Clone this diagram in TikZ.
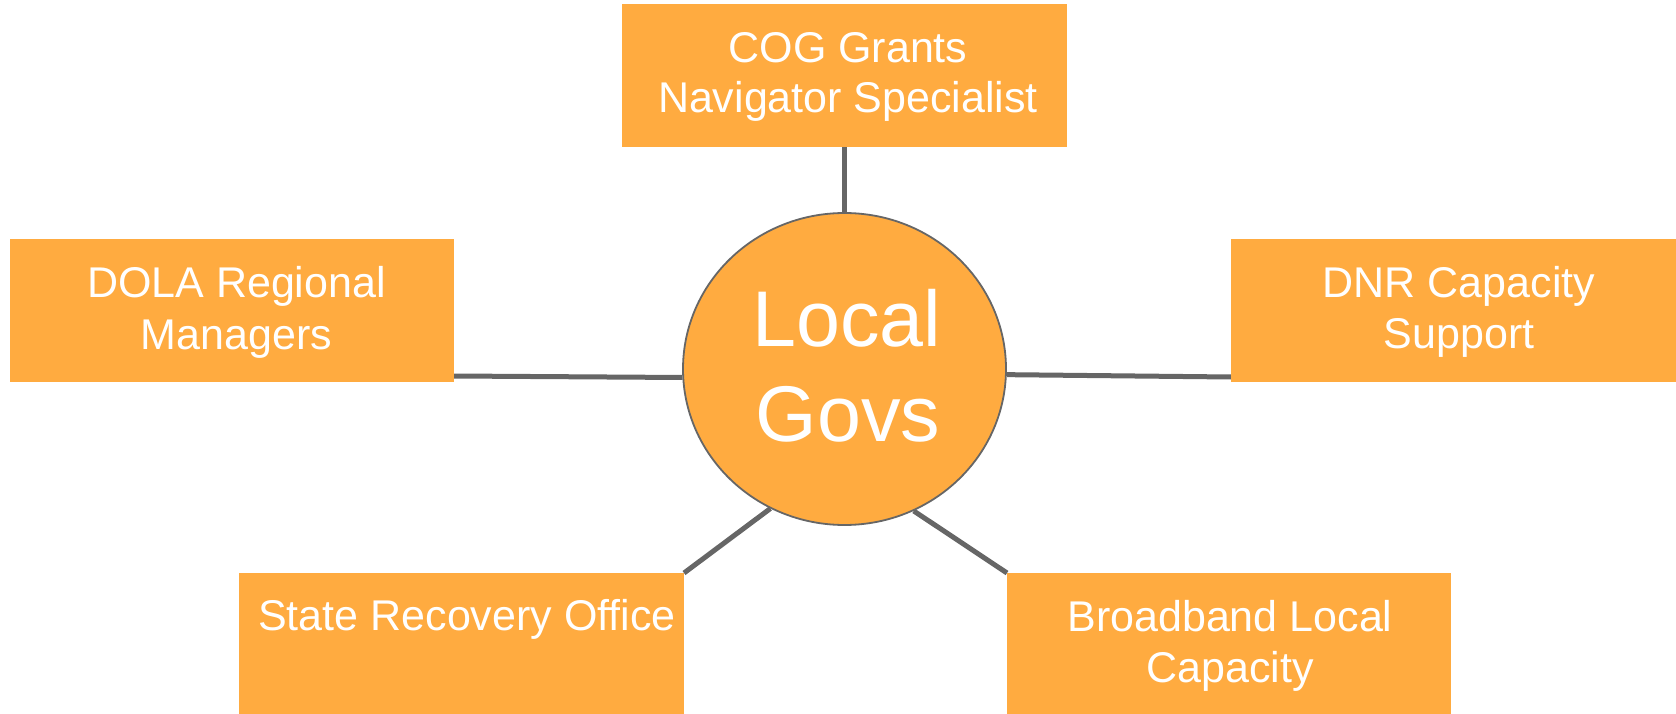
\documentclass[tikz,border=0pt]{standalone}
\usepackage{fontspec}
\setmainfont{Liberation Sans}
\usetikzlibrary{shapes.geometric,backgrounds}
\definecolor{boxorange}{HTML}{FFAB40}
\definecolor{linegray}{HTML}{666666}
\begin{document}
\begin{tikzpicture}[x=1pt,y=-1pt,
  box/.style={fill=boxorange, draw=none, inner sep=0pt, outer sep=0pt, anchor=north west},
  lbl/.style={text=white, anchor=base, inner sep=0pt, font=\fontsize{43}{50}\selectfont},
  big/.style={text=white, anchor=base, inner sep=0pt, font=\fontsize{79}{95}\selectfont},
  link/.style={draw=linegray, line width=5pt}]
\useasboundingbox (0,0) rectangle (1676,714);
\clip (0,0) rectangle (1676,714);
% boxes
\node[box, minimum width=445pt, minimum height=143pt] (cog) at (622,4) {};
\node[box, minimum width=444pt, minimum height=143pt] (dola) at (10,239) {};
\node[box, minimum width=450pt, minimum height=143pt] (dnr) at (1231,239) {};
\node[box, minimum width=445pt, minimum height=150pt] (sro) at (239,573) {};
\node[box, minimum width=444pt, minimum height=150pt] (bb) at (1007,573) {};
% centre
\node[ellipse, fill=boxorange, draw=linegray, line width=1.8pt, minimum width=323pt, minimum height=312pt, inner sep=0pt] (lg) at (844.5,369) {};
\node[big] (lg1) at (847,346) {Local};
\node[big] (lg2) at (848,441) {Govs};
% connectors
\begin{scope}[on background layer]
\draw[link] (cog.south) -- (lg.north);
\draw[link] ([yshift=6pt]dola.south east) -- (lg.183);
\draw[link] (lg.358) -- ([yshift=5pt]dnr.south west);
\draw[link] (lg.242) -- (sro.north east);
\draw[link] (lg.296) -- (bb.north west);
\end{scope}
% labels
\node[lbl] (cog1) at (848,63) {COG Grants};
\node[lbl] (cog2) at (848,113) {Navigator Specialist};
\node[lbl] (dola1) at (236.5,297) {DOLA Regional};
\node[lbl] (dola2) at (236.5,349) {Managers};
\node[lbl] (dnr1) at (1459,297) {DNR Capacity};
\node[lbl] (dnr2) at (1459,348) {Support};
\node[lbl] (sro1) at (467,630) {State Recovery Office};
\node[lbl] (bb1) at (1230,631) {Broadband Local};
\node[lbl] (bb2) at (1230,682) {Capacity};
\end{tikzpicture}
\end{document}
